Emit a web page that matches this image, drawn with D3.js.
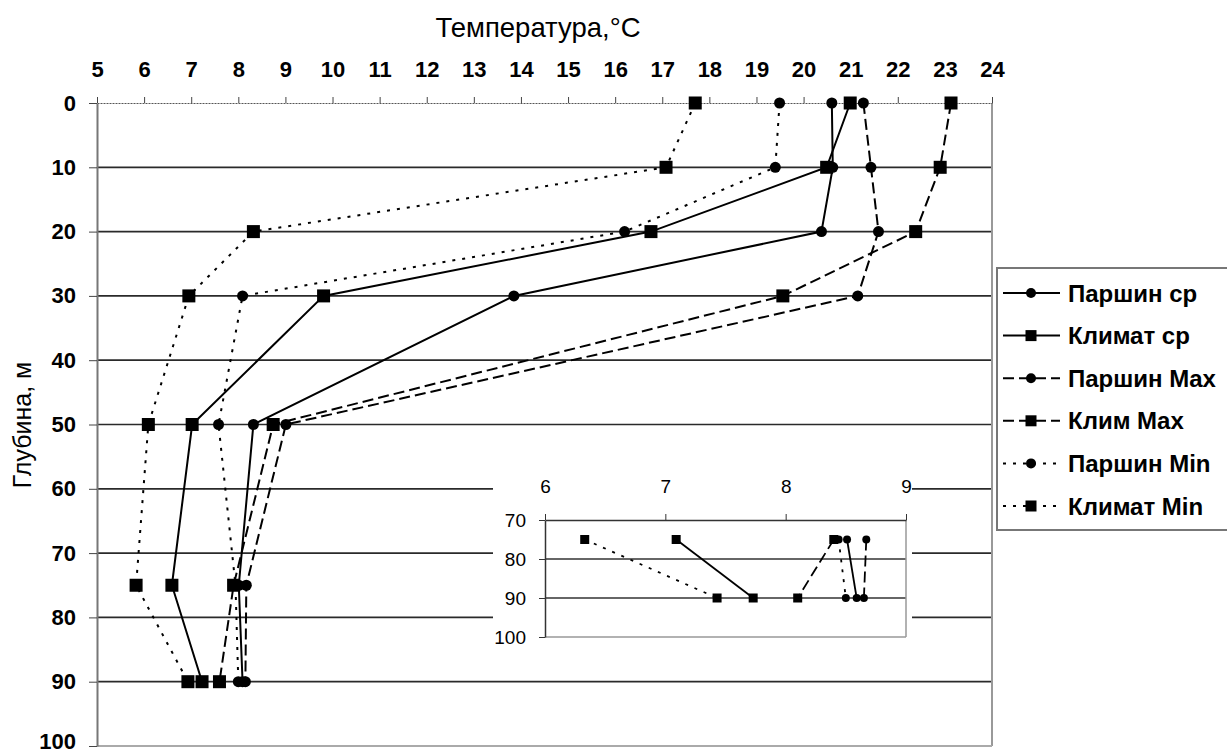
<!DOCTYPE html>
<html>
<head>
<meta charset="utf-8">
<script src="https://cdn.jsdelivr.net/npm/d3@7"></script>
<style>
  body { margin: 0; background: #fff; }
  svg { display: block; font-family: "Liberation Sans", Arial, sans-serif; }
</style>
</head>
<body>
<svg width="1227" height="753"></svg>
<script>
// depth levels, m
const depths = [0, 10, 20, 30, 50, 75, 90];

// temperature, °C, per series (same order as depths)
const parshinMean = [20.6, 20.62, 20.38, 13.85, 8.32, 8.01, 8.09];
const climMean    = [20.99, 20.49, 16.76, 9.81, 7.02, 6.59, 7.23];
const parshinMax  = [21.27, 21.43, 21.59, 21.15, 9.01, 8.17, 8.15];
const climMax     = [23.13, 22.9, 22.38, 19.56, 8.74, 7.9, 7.6];
const parshinMin  = [19.49, 19.4, 16.2, 8.09, 7.58, 7.94, 8.0];
const climMin     = [17.7, 17.08, 8.32, 6.95, 6.09, 5.83, 6.93];

// inset (zoom of the 75–90 m levels, as printed on its own axis)
const insetDepths = [75, 90];
const insetParshinMean = [8.51, 8.59];
const insetClimMean    = [7.09, 7.73];
const insetParshinMax  = [8.67, 8.65];
const insetClimMax     = [8.40, 8.10];
const insetParshinMin  = [8.44, 8.50];
const insetClimMin     = [6.33, 7.43];

const seriesNames = ['Паршин ср', 'Климат ср', 'Паршин Max', 'Клим Max', 'Паршин Min', 'Климат Min'];
const seriesShapes = ['circle', 'square', 'circle', 'square', 'circle', 'square'];
const seriesDash = [null, null, '11,5', '11,5', '3,7', '3,7'];

const xTicks = d3.range(5, 25);
const yTicks = d3.range(0, 101, 10);
const insetXTicks = [6, 7, 8, 9];
const insetYTicks = [70, 80, 90, 100];

const mainValues = [parshinMean, climMean, parshinMax, climMax, parshinMin, climMin];
const insetValues = [insetParshinMean, insetClimMean, insetParshinMax, insetClimMax, insetParshinMin, insetClimMin];

const FONT = '"Liberation Sans", Arial, sans-serif';
const svg = d3.select('svg');

const x = d3.scaleLinear().domain([5, 24]).range([97, 992]);
const y = d3.scaleLinear().domain([0, 100]).range([103, 746]);

// gridlines
svg.append('g')
  .selectAll('line')
  .data(yTicks.filter(d => d > 0 && d < 100))
  .enter().append('line')
    .attr('x1', x(5)).attr('x2', x(24))
    .attr('y1', d => y(d)).attr('y2', d => y(d))
    .attr('stroke', '#2a2a2a')
    .attr('stroke-width', 1.7);

// right & bottom frame
svg.append('line')
  .attr('x1', x(24)).attr('x2', x(24)).attr('y1', y(0)).attr('y2', y(100))
  .attr('stroke', '#999').attr('stroke-width', 2);
svg.append('line')
  .attr('x1', x(5)).attr('x2', x(24)).attr('y1', y(100)).attr('y2', y(100))
  .attr('stroke', '#aaa').attr('stroke-width', 2);

// top axis
const gx = svg.append('g')
  .attr('transform', `translate(0,${y(0)})`)
  .call(d3.axisTop(x).tickValues(xTicks).tickFormat(d3.format('d'))
    .tickSize(6).tickSizeOuter(0).tickPadding(20));
gx.select('.domain').attr('stroke', '#555').attr('stroke-dasharray', '2,1');
gx.selectAll('.tick line').attr('stroke', '#444');
gx.selectAll('text')
  .attr('font-size', 22).attr('font-weight', 'bold').attr('fill', '#000')
  .attr('font-family', FONT);

// left axis
const gy = svg.append('g')
  .attr('transform', `translate(${x(5)},0)`)
  .call(d3.axisLeft(y).tickValues(yTicks).tickFormat(d3.format('d'))
    .tickSize(8).tickSizeOuter(0).tickPadding(13));
gy.select('.domain').attr('stroke', '#777').attr('stroke-width', 2);
gy.selectAll('.tick line').attr('stroke', '#444');
gy.selectAll('text')
  .attr('font-size', 22).attr('font-weight', 'bold').attr('fill', '#000')
  .attr('font-family', FONT)
  .attr('dy', d => d === 100 ? '0.1em' : '0.32em');

// axis titles
svg.append('text')
  .attr('x', 538).attr('y', 37)
  .attr('text-anchor', 'middle')
  .attr('font-size', 27.5)
  .text('Температура,°C');

svg.append('text')
  .attr('transform', 'translate(31,425) rotate(-90)')
  .attr('text-anchor', 'middle')
  .attr('font-size', 25)
  .text('Глубина, м');

function drawSeries(g, xs, ys, dep, values, opts) {
  const line = d3.line().x(d => xs(d[0])).y(d => ys(d[1]));
  values.forEach((vals, i) => {
    const pts = vals.map((v, j) => [v, dep[j]]);
    g.append('path')
      .datum(pts)
      .attr('d', line)
      .attr('fill', 'none')
      .attr('stroke', '#000')
      .attr('stroke-width', opts.lw)
      .attr('stroke-dasharray', seriesDash[i]);
  });
  values.forEach((vals, i) => {
    const pts = vals.map((v, j) => [v, dep[j]]);
    const mk = g.append('g');
    if (seriesShapes[i] === 'square') {
      mk.selectAll('rect').data(pts).enter().append('rect')
        .attr('x', d => xs(d[0]) - opts.sq / 2)
        .attr('y', d => ys(d[1]) - opts.sq / 2)
        .attr('width', opts.sq).attr('height', opts.sq)
        .attr('fill', '#000');
    } else {
      mk.selectAll('circle').data(pts).enter().append('circle')
        .attr('cx', d => xs(d[0])).attr('cy', d => ys(d[1]))
        .attr('r', opts.r)
        .attr('fill', '#000');
    }
  });
}

drawSeries(svg.append('g'), x, y, depths, mainValues, {lw: 2, sq: 13, r: 5.5});

// inset
const inset = svg.append('g');
inset.append('rect')
  .attr('x', 493).attr('y', 474).attr('width', 419).attr('height', 190)
  .attr('fill', '#fff');

const xi = d3.scaleLinear().domain([6, 9]).range([545, 906]);
const yi = d3.scaleLinear().domain([70, 100]).range([520, 637]);

inset.append('g')
  .selectAll('line')
  .data(insetYTicks.filter(d => d > 70 && d < 100))
  .enter().append('line')
    .attr('x1', xi(6)).attr('x2', xi(9))
    .attr('y1', d => yi(d)).attr('y2', d => yi(d))
    .attr('stroke', '#333').attr('stroke-width', 1.4);
inset.append('line')
  .attr('x1', xi(9)).attr('x2', xi(9)).attr('y1', yi(70)).attr('y2', yi(100))
  .attr('stroke', '#999').attr('stroke-width', 1.5);
inset.append('line')
  .attr('x1', xi(6)).attr('x2', xi(9)).attr('y1', yi(100)).attr('y2', yi(100))
  .attr('stroke', '#999').attr('stroke-width', 1.5);

const gxi = inset.append('g')
  .attr('transform', `translate(0,${yi(70)})`)
  .call(d3.axisTop(xi).tickValues(insetXTicks).tickFormat(d3.format('d'))
    .tickSize(6).tickSizeOuter(0).tickPadding(21));
gxi.select('.domain').attr('stroke', '#333').attr('stroke-width', 1.4);
gxi.selectAll('.tick line').attr('stroke', '#333');
gxi.selectAll('text')
  .attr('font-size', 19).attr('fill', '#000')
  .attr('font-family', FONT);

const gyi = inset.append('g')
  .attr('transform', `translate(${xi(6)},0)`)
  .call(d3.axisLeft(yi).tickValues(insetYTicks).tickFormat(d3.format('d'))
    .tickSize(6).tickSizeOuter(0).tickPadding(13));
gyi.select('.domain').attr('stroke', '#333').attr('stroke-width', 1.5);
gyi.selectAll('.tick line').attr('stroke', '#333');
gyi.selectAll('text')
  .attr('font-size', 19).attr('fill', '#000')
  .attr('font-family', FONT);

drawSeries(inset.append('g'), xi, yi, insetDepths, insetValues, {lw: 1.8, sq: 9, r: 4});

// legend
const legend = svg.append('g');
legend.append('rect')
  .attr('x', 997).attr('y', 268).attr('width', 240).attr('height', 262)
  .attr('fill', '#fff').attr('stroke', '#777').attr('stroke-width', 2);

const li = legend.selectAll('.item')
  .data(seriesNames)
  .enter().append('g')
    .attr('transform', (d, i) => `translate(0,${293 + i * 42.6})`);
li.append('line')
  .attr('x1', 1003).attr('x2', 1060)
  .attr('stroke', '#000').attr('stroke-width', 2)
  .attr('stroke-dasharray', (d, i) => seriesDash[i]);
li.each(function(d, i) {
  const g = d3.select(this);
  if (seriesShapes[i] === 'square') {
    g.append('rect').attr('x', 1025.5).attr('y', -5.5).attr('width', 11).attr('height', 11).attr('fill', '#000');
  } else {
    g.append('circle').attr('cx', 1031).attr('cy', 0).attr('r', 5).attr('fill', '#000');
  }
});
li.append('text')
  .attr('x', 1068).attr('dy', '0.36em')
  .attr('font-size', 24).attr('font-weight', 'bold')
  .text(d => d);
</script>
</body>
</html>
